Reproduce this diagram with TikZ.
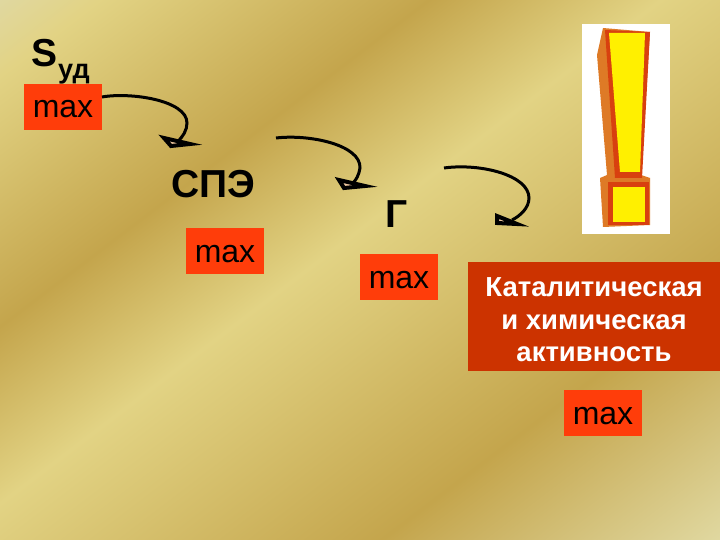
\documentclass[tikz,border=0pt]{standalone}
\usepackage{fontspec}
\setmainfont{Liberation Sans}
\definecolor{boxred}{HTML}{FF3D0A}
\definecolor{panelred}{HTML}{CC3300}
\definecolor{markred}{HTML}{D8400F}
\definecolor{markorange}{HTML}{DE7A26}
\definecolor{markyellow}{HTML}{FFF000}
\definecolor{headfill}{HTML}{F0C8A0}
\definecolor{goldpale}{HTML}{E0D8A0}
\definecolor{goldlight}{HTML}{E2D384}
\definecolor{golddark}{HTML}{C4A54C}
\pgfdeclarehorizontalshading{goldbands}{100bp}{
  color(0bp)=(goldpale); color(25bp)=(goldpale); color(28.33bp)=(goldlight); color(39.44bp)=(golddark);
  color(47.22bp)=(goldlight); color(61.72bp)=(golddark); color(73.06bp)=(goldpale); color(100bp)=(goldpale)}
\begin{document}
\begin{tikzpicture}[x=1pt,y=-1pt]
	\tikzset{maxbox/.style={fill=boxred, text=black, inner sep=0pt, minimum width=78pt, minimum height=46pt, text height=22pt, text depth=0pt, font=\fontsize{32}{32}\selectfont},
		big/.style={font=\bfseries\fontsize{39}{39}\selectfont, inner sep=0pt, anchor=base},
		curve/.style={line width=3pt, draw=black},
		head/.style={line width=4pt, draw=black, fill=headfill, line join=miter}};

	\useasboundingbox (0, 0) rectangle (720, 540);
	\begin{scope}
		\clip (0, 0) rectangle (720, 540);
		\begin{scope}[transform canvas={rotate=-52.7}]
			\shade[shading=goldbands] (0, -700) rectangle (900, 400);
		\end{scope}
	\end{scope}

	% labels
	\node[big, anchor=base west] (s) at (31, 67) {S};
	\node[anchor=base west, inner sep=0pt, font=\bfseries\fontsize{27}{27}\selectfont] (ud) at (58, 79) {уд};
	\node[maxbox] (m1) at (63, 107) {max};
	\node[big] (spe) at (213, 198) {СПЭ};
	\node[maxbox] (m2) at (225, 251) {max};
	\node[big] (g) at (397, 228) {Г};
	\node[maxbox] (m3) at (399, 277) {max};
	\node[fill=panelred, text=white, inner sep=0pt, minimum width=252pt, minimum height=109pt, align=center,
		font=\bfseries\fontsize{27.5}{32.5}\selectfont] (kat) at (594, 316.5) {\rule{0pt}{26pt}Каталитическая\\и химическая\\активность};
	\node[maxbox] (m4) at (603, 413) {max};

	% arrows
	\coordinate (a1) at (102, 97);
	\coordinate (b1) at (177, 142);
	\coordinate (a2) at (276, 138);
	\coordinate (b2) at (353, 183);
	\coordinate (a3) at (444, 168);
	\coordinate (b3) at (512, 220);
	\draw[head] (164, 138) -- (190, 144) -- (171, 146) -- cycle;
	\draw[head] (339, 180) -- (365, 186) -- (344, 188) -- cycle;
	\draw[head] (497, 216) -- (517, 224) -- (497, 223) -- cycle;
	\draw[curve] (a1) .. controls (130, 92) and (187, 100) .. (187, 123) .. controls (187, 130) and (183, 137) .. (b1);
	\draw[curve] (a2) .. controls (310, 134) and (361, 145) .. (360, 168) .. controls (359, 175) and (356, 180) .. (b2);
	\draw[curve] (a3) .. controls (480, 163) and (529, 175) .. (529, 198) .. controls (529, 208) and (520, 216) .. (b3);

	% exclamation mark
	\fill[white] (582, 24) rectangle (670, 234);
	\fill[markorange] (603, 28) -- (650, 32) -- (641, 175) -- (650, 178) -- (650, 225) -- (603, 227) -- (600, 178) -- (607, 175) -- (597, 55) -- cycle;
	\fill[markred] (605, 30) -- (650, 32) -- (642, 178) -- (615, 178) -- cycle;
	\fill[markyellow] (609, 33) -- (645, 33) -- (640, 172) -- (620, 172) -- cycle;
	\fill[markred] (608, 182) rectangle (649, 225);
	\fill[markyellow] (613, 187) rectangle (645, 222);
\end{tikzpicture}
\end{document}
